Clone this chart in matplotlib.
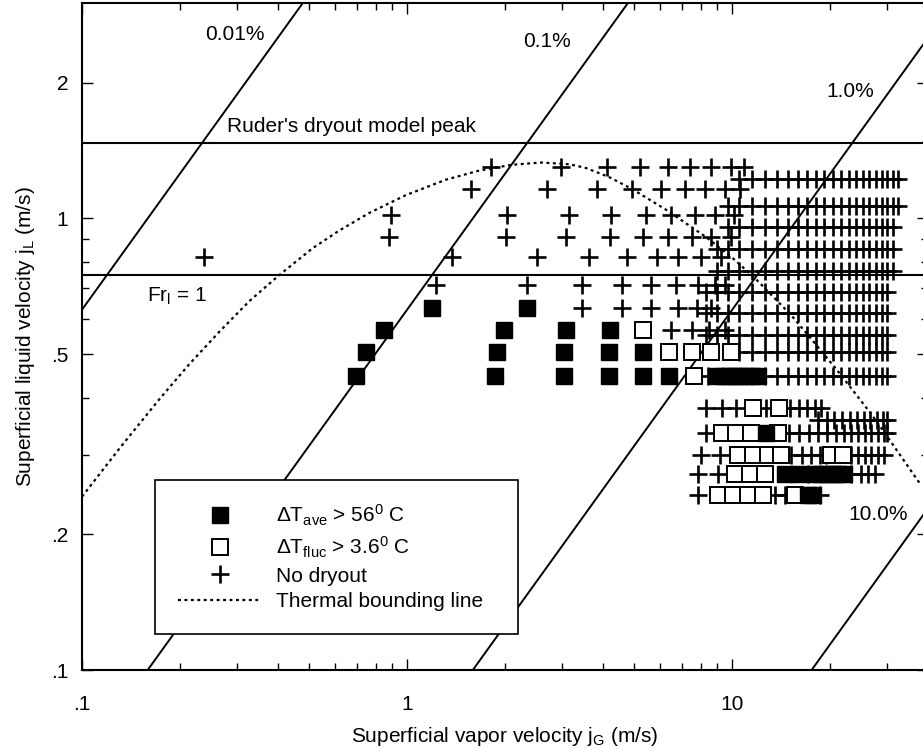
import matplotlib.pyplot as plt
from matplotlib.lines import Line2D

plt.rcParams['font.family'] = ['Liberation Sans', 'DejaVu Sans']
plt.rcParams['mathtext.fontset'] = 'custom'
plt.rcParams['mathtext.rm'] = 'Liberation Sans'
plt.rcParams['mathtext.it'] = 'Liberation Sans:italic'
plt.rcParams['mathtext.bf'] = 'Liberation Sans:bold'

# %% data (jG, jL in m/s)
X_TICKS = [0.1, 1, 10]
X_TICK_LABELS = ['.1', '1', '10']
Y_TICKS = [0.1, 0.2, 0.5, 1, 2]
Y_TICK_LABELS = ['.1', '.2', '.5', '1', '2']

RUDER_PEAK = 1.47      # Ruder's dryout model peak
FR_ONE = 0.75          # Fr_l = 1
VOID_NAMES = ['0.01%', '0.1%', '1.0%', '10.0%']
VOID_RATIO = [6.28, 0.628, 0.0628, 0.0057]   # jL / jG along each line

THERMAL_JG = [0.100, 0.132, 0.173, 0.214, 0.265, 0.327, 0.405, 0.512,
              0.618, 0.764, 0.993, 1.318, 1.663, 2.099, 2.594, 3.162, 3.540,
              4.169, 4.898, 6.237, 8.260, 9.931, 11.78, 15.17, 17.46, 21.13,
              26.67, 29.44, 38.02]
THERMAL_JL = [0.242, 0.313, 0.398, 0.476, 0.562, 0.656, 0.750, 0.859,
              0.940, 1.028, 1.127, 1.219, 1.276, 1.315, 1.330, 1.318, 1.294,
              1.236, 1.164, 1.047, 0.912, 0.822, 0.736, 0.611, 0.542, 0.459,
              0.370, 0.335, 0.257]

# jG settings of the dense high-vapor sweeps
DENSE_JG = [8.3, 9.0, 9.7, 10.5, 11.5, 12.6, 13.7, 14.8, 15.9, 17.0, 18.1,
            19.2, 20.4, 21.6, 22.8, 24.0, 25.2, 26.4, 27.6, 28.8, 30.0, 31.2,
            32.3]

# one entry per row of constant jL
ROW_JL = [1.30, 1.22, 1.16, 1.063, 1.02, 0.955, 0.912, 0.854, 0.82, 0.763,
          0.714, 0.686, 0.635, 0.619, 0.567, 0.553, 0.505, 0.447, 0.381,
          0.358, 0.335, 0.30, 0.271, 0.244]
PLUS_JG = [
    [1.81, 2.97, 4.11, 5.22, 6.36, 7.43, 8.61, 9.93, 10.9],
    [g for g in DENSE_JG if 10.5 <= g <= 32.3],
    [1.57, 2.69, 3.83, 4.90, 6.05, 7.17, 8.27, 9.52, 10.6],
    [g for g in DENSE_JG if 9.7 <= g <= 32.3],
    [0.893, 2.03, 3.14, 4.25, 5.41, 6.5, 7.7, 8.87, 10.1],
    [g for g in DENSE_JG if 9.7 <= g <= 31.2],
    [0.88, 2.01, 3.09, 4.22, 5.3, 6.36, 7.5, 8.61, 9.93],
    [g for g in DENSE_JG if 9.0 <= g <= 31.2],
    [0.238, 1.374, 2.51, 3.62, 4.73, 5.85, 6.83, 8.03, 9.25],
    [g for g in DENSE_JG if 9.0 <= g <= 31.2],
    [1.227, 2.33, 3.44, 4.57, 5.64, 6.73, 7.86, 8.87, 9.52],
    [g for g in DENSE_JG if 8.3 <= g <= 30.0],
    [3.44, 4.57, 5.64, 6.83, 7.79, 8.61],
    [g for g in DENSE_JG if 8.3 <= g <= 30.0],
    [6.5, 7.5, 8.5, 9.5],
    [g for g in DENSE_JG if 8.3 <= g <= 30.0],
    [g for g in DENSE_JG if 10.5 <= g <= 30.0],
    [8.4] + [g for g in DENSE_JG if 12.6 <= g <= 30.0],
    [8.33, 9.3, 10.3, 12.7, 15.0, 16.0, 17.0, 18.0, 18.8],
    [18.4, 19.5, 20.6, 21.8, 23.0, 24.2, 25.4, 26.6, 27.8, 29.0, 30.0],
    [8.3, 14.9, 16.0, 17.2, 18.4, 19.6, 20.8, 22.0, 23.2, 24.4, 25.6, 26.8,
     28.0, 29.2, 30.0],
    [8.0, 9.2, 15.2, 16.4, 17.5, 18.6, 19.4, 23.2, 24.4, 25.6, 26.8, 28.0,
     29.2],
    [7.86, 9.06, 17.1, 23.2, 24.8, 26.1, 27.5],
    [7.86, 13.5, 14.5, 18.6],
]
OPEN_JG = [[], [], [], [], [], [], [], [], [], [], [], [], [], [],
           [5.3], [], [6.4, 7.5, 8.6, 9.9], [7.6],
           [11.6, 13.9], [], [9.3, 10.3, 11.4, 13.8],
           [10.4, 11.6, 12.9, 14.1, 20.1, 21.9],
           [10.2, 11.35, 12.6], [9.06, 10.07, 11.19, 12.44, 15.6]]
FILLED_JG = [[], [], [], [], [], [], [], [], [], [], [], [],
             [1.19, 2.33], [], [0.85, 1.99, 3.09, 4.22], [],
             [0.748, 1.89, 3.03, 4.17, 5.3],
             [0.698, 1.86, 3.03, 4.17, 5.3, 6.4, 9.0, 9.4, 9.8, 10.2, 10.6,
              11.0, 11.5, 12.0],
             [], [], [12.7], [],
             [14.5, 15.9, 18.0, 18.8, 19.6, 20.4, 21.2, 22.0],
             [17.1, 17.7]]

# %% figure
fig = plt.figure(figsize=(9.23, 7.49), dpi=100)
ax = fig.add_axes([82 / 923, 79 / 749, 846 / 923, 667 / 749])
ax.set_xscale('log')
ax.set_yscale('log')
XMIN, XMAX = 0.1, 40
ax.set_xlim(XMIN, XMAX)
ax.set_ylim(0.1, 3)

# reference lines
ax.axhline(RUDER_PEAK, color='k', lw=1.5)
ax.axhline(FR_ONE, color='k', lw=1.5)
for r in VOID_RATIO:
    ax.plot([XMIN, XMAX], [r * XMIN, r * XMAX], color='k', lw=1.4)
ax.plot(THERMAL_JG, THERMAL_JL, color='k', lw=1.6, ls=(0, (1.3, 1.6)))

# data points
for jl, gs in zip(ROW_JL, PLUS_JG):
    ax.plot(gs, [jl] * len(gs), ls='none', marker='+', ms=13, mew=1.9,
            color='k')
for jl, gs in zip(ROW_JL, OPEN_JG):
    ax.plot(gs, [jl] * len(gs), ls='none', marker='s', ms=11, mew=1.4,
            mfc='white', mec='k')
for jl, gs in zip(ROW_JL, FILLED_JG):
    ax.plot(gs, [jl] * len(gs), ls='none', marker='s', ms=11, mew=1.0,
            mfc='k', mec='k')

# labels on the lines
fs = 15
ax.text(0.295, 2.56, VOID_NAMES[0], fontsize=fs, ha='center', va='center')
ax.text(2.69, 2.47, VOID_NAMES[1], fontsize=fs, ha='center', va='center')
ax.text(23.0, 1.91, VOID_NAMES[2], fontsize=fs, ha='center', va='center')
ax.text(28.1, 0.221, VOID_NAMES[3], fontsize=fs, ha='center', va='center')
ax.text(0.279, 1.60, "Ruder's dryout model peak", fontsize=fs, ha='left',
        va='center')
ax.text(0.158, 0.671, 'Fr$_{\\mathrm{l}}$ = 1', fontsize=fs, ha='left',
        va='center')

# axes cosmetics
ax.set_xticks(X_TICKS)
ax.set_xticklabels(X_TICK_LABELS)
ax.set_yticks(Y_TICKS)
ax.set_yticklabels(Y_TICK_LABELS)
ax.set_yticks([0.3, 0.4, 0.6, 0.7, 0.8, 0.9], minor=True)
ax.set_yticklabels([], minor=True)
ax.set_xticklabels([], minor=True)
ax.tick_params(which='both', direction='in', top=True, right=True,
               labelsize=fs, width=1.0)
ax.tick_params(which='major', length=8, pad=10)
ax.tick_params(which='minor', length=5)
ax.tick_params(axis='x', which='major', pad=18)
for s in ax.spines.values():
    s.set_linewidth(1.5)

ax.set_xlabel('Superficial vapor velocity j$_{\\mathrm{G}}$ (m/s)',
              fontsize=fs, labelpad=8)
ax.set_ylabel('Superficial liquid velocity j$_{\\mathrm{L}}$ (m/s)',
              fontsize=fs, labelpad=10)

handles = [
    Line2D([], [], ls='none', marker='s', ms=11, mfc='k', mec='k'),
    Line2D([], [], ls='none', marker='s', ms=11, mfc='white', mec='k',
           mew=1.4),
    Line2D([], [], ls='none', marker='+', ms=13, mew=1.9, color='k'),
    Line2D([], [], color='k', lw=1.6, ls=(0, (1.3, 1.6))),
]
labels = ['ΔT$_{\\mathrm{ave}}$ > 56$^{0}$ C',
          'ΔT$_{\\mathrm{fluc}}$ > 3.6$^{0}$ C',
          'No dryout',
          'Thermal bounding line']
leg = ax.legend(handles, labels, loc='upper left',
                bbox_to_anchor=(0.0863, 0.2849, 0.4291, 0.0), mode='expand',
                borderaxespad=0, fontsize=fs, handlelength=4,
                handletextpad=0.7, borderpad=1.1, labelspacing=0.32,
                fancybox=False, framealpha=1, edgecolor='k')
leg.get_frame().set_linewidth(1.2)

fig.savefig('out.png', dpi=100)
